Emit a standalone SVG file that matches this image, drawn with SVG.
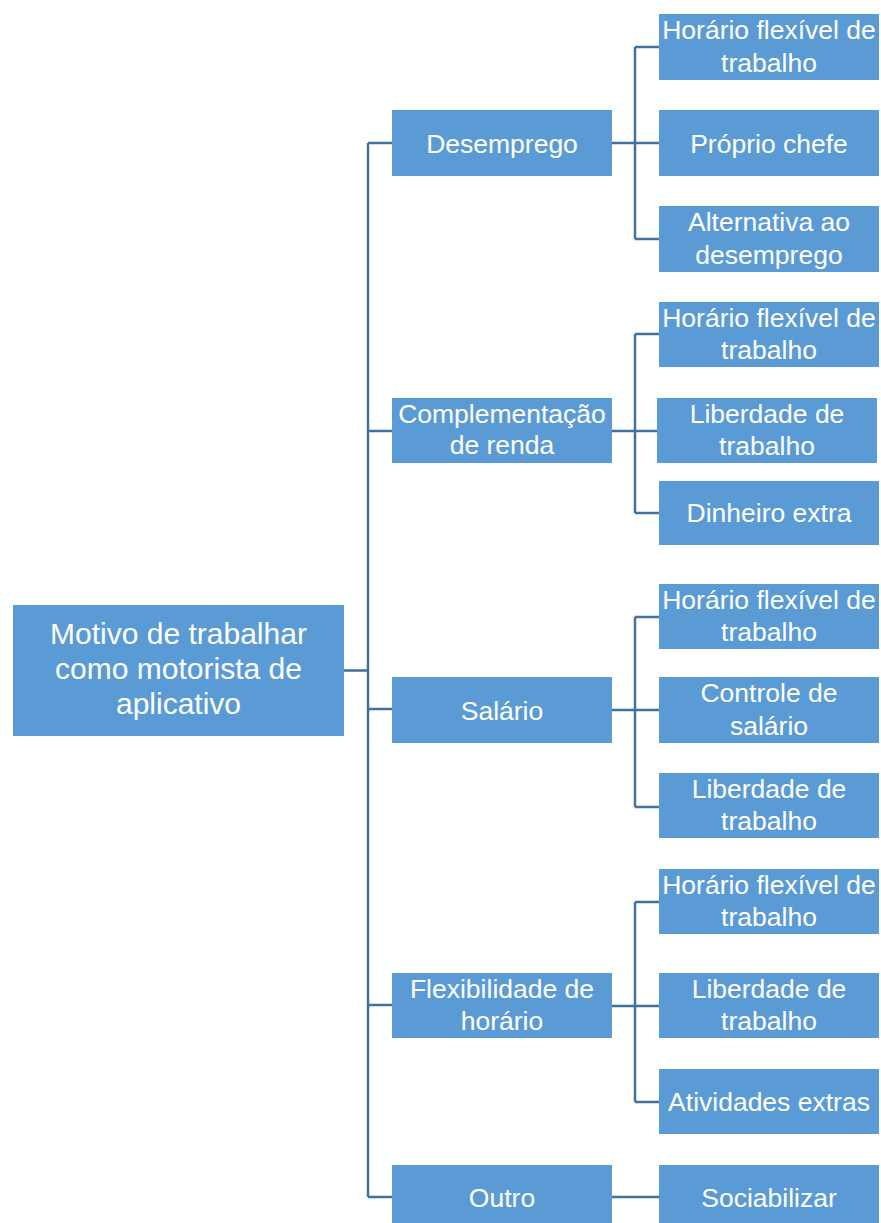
<svg xmlns="http://www.w3.org/2000/svg" width="881" height="1223" viewBox="0 0 881 1223">
<style>
.box{fill:#5B9BD5;}
.t{fill:#FFFFFF;font-family:"Liberation Sans",Arial,sans-serif;font-size:26.5px;text-anchor:middle;}
.r{font-size:30px;}
.c{fill:none;stroke:#41719C;stroke-width:2.5;}
</style>
<rect width="881" height="1223" fill="#FFFFFF"/>
<g id="connectors">
<path class="c" d="M344,670.5H368M368,143V1197M368,143H392M368,431H392M368,709H392M368,1005H392M368,1197H392"/>
<path class="c" d="M612,143H659M635,47V239M635,47H659M635,239H659"/>
<path class="c" d="M612,431H657M635,334V513M635,334H659M635,513H659"/>
<path class="c" d="M612,710H659M635,617V807M635,617H659M635,807H659"/>
<path class="c" d="M612,1006H659M635,902V1102M635,902H659M635,1102H659"/>
<path class="c" d="M612,1197H659"/>
</g>
<g id="root"><rect class="box" x="13" y="605" width="331" height="131"/>
<text class="t r" x="178.5" y="644">Motivo de trabalhar</text><text class="t r" x="178.5" y="679">como motorista de</text><text class="t r" x="178.5" y="714">aplicativo</text></g>
<g id="desemprego"><rect class="box" x="392" y="110" width="220" height="66"/><text class="t" x="502" y="152.5">Desemprego</text></g>
<g id="complementacao"><rect class="box" x="392" y="398" width="220" height="65"/><text class="t" x="502" y="423">Complementação</text><text class="t" x="502" y="454">de renda</text></g>
<g id="salario"><rect class="box" x="392" y="677" width="220" height="66"/><text class="t" x="502" y="719.5">Salário</text></g>
<g id="flexibilidade"><rect class="box" x="392" y="973" width="220" height="65"/><text class="t" x="502" y="998">Flexibilidade de</text><text class="t" x="502" y="1030">horário</text></g>
<g id="outro"><rect class="box" x="392" y="1165" width="220" height="60"/><text class="t" x="502" y="1206.5">Outro</text></g>
<g id="d1"><rect class="box" x="659" y="14" width="220" height="66"/><text class="t" x="769" y="39">Horário flexível de</text><text class="t" x="769" y="72">trabalho</text></g>
<g id="d2"><rect class="box" x="659" y="110" width="220" height="66"/><text class="t" x="769" y="152.5">Próprio chefe</text></g>
<g id="d3"><rect class="box" x="659" y="206" width="220" height="66"/><text class="t" x="769" y="231">Alternativa ao</text><text class="t" x="769" y="264">desemprego</text></g>
<g id="c1"><rect class="box" x="659" y="302" width="220" height="65"/><text class="t" x="769" y="327">Horário flexível de</text><text class="t" x="769" y="359">trabalho</text></g>
<g id="c2"><rect class="box" x="657" y="398" width="220" height="65"/><text class="t" x="767" y="423">Liberdade de</text><text class="t" x="767" y="455">trabalho</text></g>
<g id="c3"><rect class="box" x="659" y="481" width="220" height="64"/><text class="t" x="769" y="522">Dinheiro extra</text></g>
<g id="s1"><rect class="box" x="659" y="584" width="220" height="65"/><text class="t" x="769" y="609">Horário flexível de</text><text class="t" x="769" y="641">trabalho</text></g>
<g id="s2"><rect class="box" x="659" y="677" width="220" height="66"/><text class="t" x="769" y="702">Controle de</text><text class="t" x="769" y="735">salário</text></g>
<g id="s3"><rect class="box" x="659" y="773" width="220" height="65"/><text class="t" x="769" y="798">Liberdade de</text><text class="t" x="769" y="830">trabalho</text></g>
<g id="f1"><rect class="box" x="659" y="869" width="220" height="65"/><text class="t" x="769" y="894">Horário flexível de</text><text class="t" x="769" y="926">trabalho</text></g>
<g id="f2"><rect class="box" x="659" y="973" width="220" height="65"/><text class="t" x="769" y="998">Liberdade de</text><text class="t" x="769" y="1030">trabalho</text></g>
<g id="f3"><rect class="box" x="659" y="1069" width="220" height="65"/><text class="t" x="769" y="1110.5">Atividades extras</text></g>
<g id="o1"><rect class="box" x="659" y="1165" width="220" height="60"/><text class="t" x="769" y="1206.5">Sociabilizar</text></g>
</svg>
